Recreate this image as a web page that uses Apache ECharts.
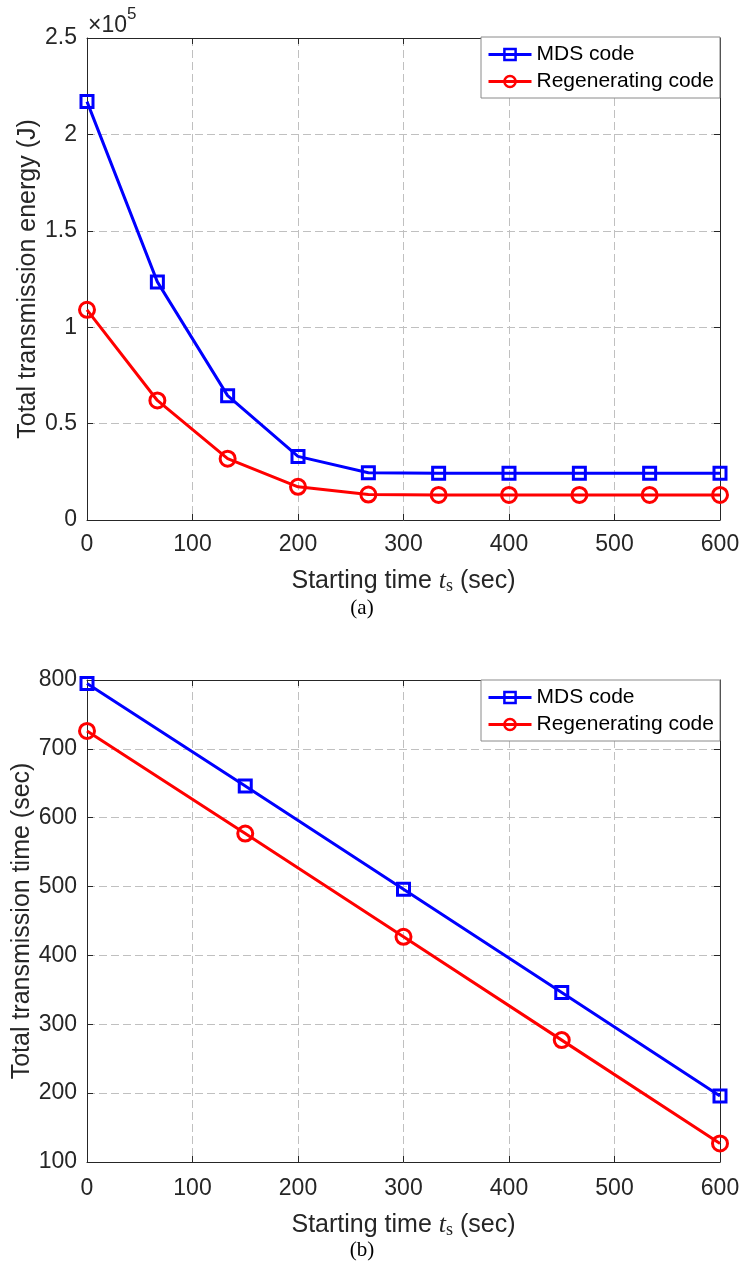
<!DOCTYPE html>
<html>
<head>
<meta charset="utf-8">
<script src="https://cdn.jsdelivr.net/npm/echarts@6/dist/echarts.min.js"></script>
<style>
  html, body { margin: 0; padding: 0; background: #fff; }
  #chart { width: 741px; height: 1263px; }
</style>
</head>
<body>
<div id="chart"></div>
<script>
// (a) energy vs starting time
const timesA = [0, 66.7, 133.3, 200, 266.7, 333.3, 400, 466.7, 533.3, 600];
const energyMDS = [217000, 123500, 64500, 33000, 24500, 24200, 24200, 24200, 24200, 24200];
const energyRegen = [109000, 62000, 31800, 17200, 13200, 13000, 13000, 13000, 13000, 13000];

// (b) transmission time vs starting time
const timesB = [0, 150, 300, 450, 600];
const timeMDS = [795, 646, 496, 346, 196];
const timeRegen = [726, 577, 427, 277, 127];

const seriesNames = ['MDS code', 'Regenerating code'];

const FONT = 'Liberation Sans';
const INK = '#262626';
const GRID_COLOR = '#c0c0c0';

function pairs(xs, ys) {
    return xs.map((x, i) => [x, ys[i]]);
}

const xName = 'Starting time {it|t}{sub|s} (sec)';
const xNameStyle = {
    fontFamily: FONT, fontSize: 25, color: INK, lineHeight: 28,
    rich: {
        it: {fontFamily: 'Liberation Serif', fontStyle: 'italic', fontSize: 26, color: INK, lineHeight: 28},
        sub: {fontFamily: 'Liberation Serif', fontSize: 18, color: INK, lineHeight: 18, verticalAlign: 'bottom'}
    }
};

function mainX(gridIndex, labelMargin, nameGap) {
    return {
        type: 'value', gridIndex: gridIndex, position: 'bottom',
        min: 0, max: 600, interval: 100,
        name: xName, nameLocation: 'middle', nameGap: nameGap, nameTextStyle: xNameStyle,
        nameMoveOverlap: false,
        axisLine: {show: true, onZero: false, lineStyle: {color: INK, width: 1}},
        axisTick: {show: true, inside: true, length: 6, lineStyle: {color: INK}},
        axisLabel: {fontFamily: FONT, fontSize: 23, color: INK, margin: labelMargin},
        splitLine: {show: true, lineStyle: {color: GRID_COLOR, type: [8, 4], width: 1}}
    };
}

function boxX(gridIndex) {
    return {
        type: 'value', gridIndex: gridIndex, position: 'top',
        min: 0, max: 600, interval: 100,
        axisLine: {show: true, onZero: false, lineStyle: {color: INK, width: 1}},
        axisTick: {show: true, inside: true, length: 6, lineStyle: {color: INK}},
        axisLabel: {show: false},
        splitLine: {show: false}
    };
}

function mainY(gridIndex, min, max, interval, name, nameGap, fmt) {
    return {
        type: 'value', gridIndex: gridIndex, position: 'left',
        min: min, max: max, interval: interval,
        name: name, nameLocation: 'middle', nameGap: nameGap,
        nameMoveOverlap: false,
        nameTextStyle: {fontFamily: FONT, fontSize: 25, color: INK},
        axisLine: {show: true, onZero: false, lineStyle: {color: INK, width: 1}},
        axisTick: {show: true, inside: true, length: 6, lineStyle: {color: INK}},
        axisLabel: {fontFamily: FONT, fontSize: 23, color: INK, margin: 10, formatter: fmt},
        splitLine: {show: true, lineStyle: {color: GRID_COLOR, type: [8, 4], width: 1}}
    };
}

function boxY(gridIndex, min, max, interval) {
    return {
        type: 'value', gridIndex: gridIndex, position: 'right',
        min: min, max: max, interval: interval,
        axisLine: {show: true, onZero: false, lineStyle: {color: INK, width: 1}},
        axisTick: {show: true, inside: true, length: 6, lineStyle: {color: INK}},
        axisLabel: {show: false},
        splitLine: {show: false}
    };
}

function lineSeries(name, color, symbol, size, data, axisIdx) {
    return {
        name: name, type: 'line', data: data,
        xAxisIndex: axisIdx, yAxisIndex: axisIdx,
        symbol: symbol, symbolSize: size, showAllSymbol: true,
        lineStyle: {color: color, width: 3},
        itemStyle: {color: 'rgba(255,255,255,0)', borderColor: color, borderWidth: 3},
        emphasis: {disabled: true},
        animation: false, z: 5
    };
}

function legendAt(top) {
    return {
        orient: 'vertical', left: 481, top: top,
        padding: [7, 6, 6, 6], itemGap: 6, itemWidth: 43, itemHeight: 14,
        backgroundColor: '#fff', borderColor: '#8a8a8a', borderWidth: 1,
        selectedMode: false,
        lineStyle: {width: 3},
        itemStyle: {borderWidth: 2.5},
        textStyle: {fontFamily: FONT, fontSize: 21, color: '#000'},
        data: seriesNames
    };
}

const chart = echarts.init(document.getElementById('chart'), null, {renderer: 'canvas'});
chart.setOption({
    backgroundColor: '#fff',
    animation: false,
    grid: [
        {left: 87, top: 38, width: 633, height: 482, containLabel: false, outerBoundsMode: 'none'},
        {left: 87, top: 680, width: 633, height: 482, containLabel: false, outerBoundsMode: 'none'}
    ],
    xAxis: [mainX(0, 13, 47), mainX(1, 15, 49), boxX(0), boxX(1)],
    yAxis: [
        mainY(0, 0, 250000, 50000, 'Total transmission energy (J)', 46, v => String(v / 100000)),
        mainY(1, 100, 800, 100, 'Total transmission time (sec)', 52, v => String(v)),
        boxY(0, 0, 250000, 50000),
        boxY(1, 100, 800, 100)
    ],
    legend: [legendAt(37), legendAt(680)],
    series: [
        lineSeries(seriesNames[0], '#0000ff', 'rect', 12, pairs(timesA, energyMDS), 0),
        lineSeries(seriesNames[1], '#ff0000', 'circle', 15, pairs(timesA, energyRegen), 0),
        lineSeries(seriesNames[0], '#0000ff', 'rect', 12, pairs(timesB, timeMDS), 1),
        lineSeries(seriesNames[1], '#ff0000', 'circle', 15, pairs(timesB, timeRegen), 1)
    ],
    graphic: [
        {
            type: 'text', x: 88, y: 26,
            style: {text: '×10', fontFamily: FONT, fontSize: 23, fill: INK, verticalAlign: 'middle'}
        },
        {
            type: 'text', x: 127, y: 14,
            style: {text: '5', fontFamily: FONT, fontSize: 17, fill: INK, verticalAlign: 'middle'}
        },
        {
            type: 'text', x: 362, y: 608,
            style: {text: '(a)', fontFamily: 'Liberation Serif', fontSize: 21, fill: '#000', align: 'center', verticalAlign: 'middle'}
        },
        {
            type: 'text', x: 362, y: 1250,
            style: {text: '(b)', fontFamily: 'Liberation Serif', fontSize: 21, fill: '#000', align: 'center', verticalAlign: 'middle'}
        }
    ]
});
</script>
</body>
</html>
